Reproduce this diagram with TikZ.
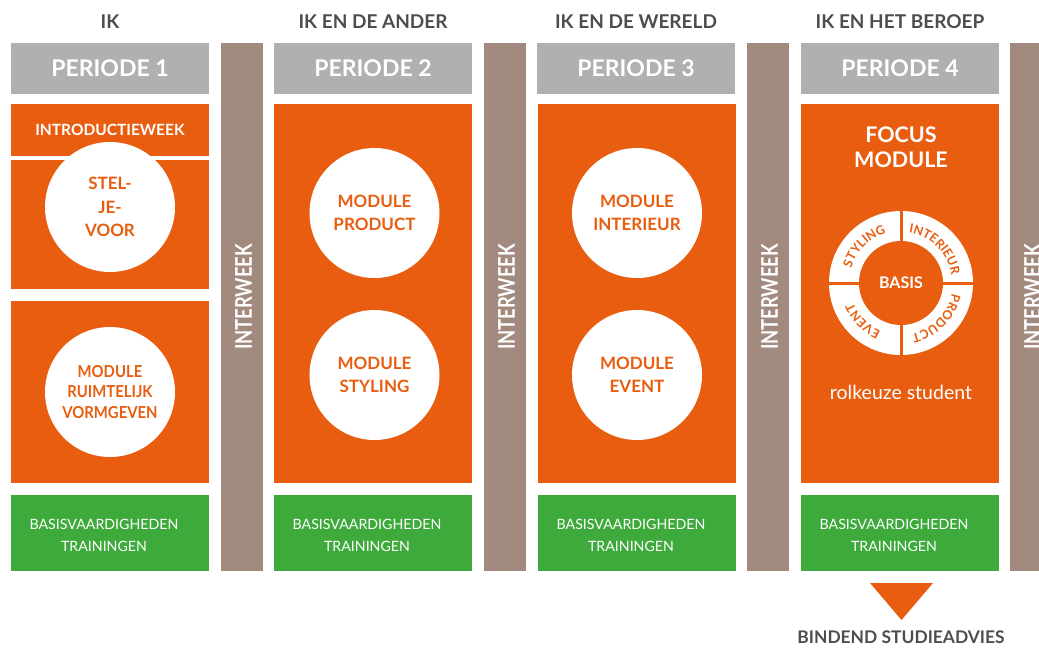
\documentclass[tikz,border=0pt]{standalone}
\usepackage{fontspec}
\setmainfont{Lato}
\newfontfamily\condb{Lato}
\newfontfamily\narrowb{Lato}[FakeStretch=0.8]
\newfontfamily\semib{Lato}[FakeStretch=0.9]
\usetikzlibrary{decorations.text}
\definecolor{orng}{RGB}{232,93,15}
\definecolor{hgray}{RGB}{176,176,176}
\definecolor{brwn}{RGB}{163,138,127}
\definecolor{grn}{RGB}{61,170,59}
\definecolor{dgray}{RGB}{77,77,77}
\begin{document}
\begin{tikzpicture}[x=1pt,y=-1pt,
  box/.style={rectangle, inner sep=0pt, outer sep=0pt, minimum width=198pt, text=white, align=center},
  hdr/.style={box, fill=hgray, minimum height=51pt, font=\condb\bfseries\fontsize{23}{23}\selectfont},
  obox/.style={box, fill=orng},
  gbox/.style={box, fill=grn, minimum height=76pt},
  gtxt/.style={text=white, align=center, inner sep=0pt, font=\condb\fontsize{14.2}{22}\selectfont},
  iwk/.style={rectangle, fill=brwn, inner sep=0pt, minimum width=42pt, minimum height=528pt},
  iwtxt/.style={rotate=90, text=white, font=\narrowb\bfseries\fontsize{23}{23}\selectfont},
  title/.style={text=dgray, font=\condb\bfseries\fontsize{19}{19}\selectfont},
  mcirc/.style={circle, fill=white, inner sep=0pt, minimum size=130pt, text=orng, align=center, font=\condb\bfseries\fontsize{17}{23.5}\selectfont},
  ringtxt/.style={decorate, decoration={text along path, text align=center, text color=orng, text={|\condb\bfseries\fontsize{12.5}{12.5}\selectfont|#1}}}
]
\useasboundingbox (0,0) rectangle (1039,648);
\clip (0,0) rectangle (1039,648);

% titles
\node[title] (t1) at (110,22) {IK};
\node[title] (t2) at (373,22) {IK EN DE ANDER};
\node[title] (t3) at (636,22) {IK EN DE WERELD};
\node[title] (t4) at (900,22) {IK EN HET BEROEP};

% period headers
\node[hdr] (p1) at (110,68.5) {PERIODE 1};
\node[hdr] (p2) at (373,68.5) {PERIODE 2};
\node[hdr] (p3) at (636,68.5) {PERIODE 3};
\node[hdr] (p4) at (900,68.5) {PERIODE 4};

% interweek bars
\foreach \i/\x in {1/242,2/505,3/768,4/1031}{
  \node[iwk] (iw\i) at (\x,307) {};
  \node[iwtxt] (iwt\i) at (\x+1.5,297) {INTERWEEK};
}

% column 1
\node[obox, minimum height=52pt, font=\condb\bfseries\fontsize{15.5}{15.5}\selectfont] (intro) at (110,130) {INTRODUCTIEWEEK};
\node[obox, minimum height=129pt] (c1a) at (110,224.5) {};
\node[obox, minimum height=182pt] (c1b) at (110,392) {};
\node[mcirc] (stel) at (110,207) {STEL-\\JE-\\VOOR};
\node[mcirc, font=\semib\bfseries\fontsize{16.5}{20.5}\selectfont] (ruim) at (110,392) {MODULE\\RUIMTELIJK\\VORMGEVEN};

% column 2
\node[obox, minimum height=379pt] (c2) at (373,293.5) {};
\node[mcirc] (prod) at (374.5,213) {MODULE\\PRODUCT};
\node[mcirc] (styl) at (374.5,375) {MODULE\\STYLING};

% column 3
\node[obox, minimum height=379pt] (c3) at (637,293.5) {};
\node[mcirc] (inter) at (637,213) {MODULE\\INTERIEUR};
\node[mcirc] (event) at (637,375) {MODULE\\EVENT};

% column 4
\node[obox, minimum height=379pt] (c4) at (900,293.5) {};
\node[text=white, align=center, font=\condb\bfseries\fontsize{21.5}{25}\selectfont] (focus) at (901,147.5) {FOCUS\\MODULE};
\node[circle, fill=white, inner sep=0pt, minimum size=144pt] (ring) at (901,283) {};
\draw[orng, line width=3pt] (ring.west) -- (ring.east);
\draw[orng, line width=3pt] (ring.north) -- (ring.south);
\node[circle, fill=orng, inner sep=0pt, minimum size=84pt, text=white, font=\condb\bfseries\fontsize{16}{16}\selectfont] (basis) at (901,283) {BASIS};
\begin{scope}[shift={(901pt,-283pt)}, y=1pt]
  \path[ringtxt=STYLING] (174:52) arc[start angle=174, end angle=96, radius=52];
  \path[ringtxt=INTERIEUR] (86:51) arc[start angle=86, end angle=4, radius=51];
  \path[ringtxt=PRODUCT] (-4:52) arc[start angle=-4, end angle=-86, radius=52];
  \path[ringtxt=EVENT] (-96:52) arc[start angle=-96, end angle=-174, radius=52];
\end{scope}
\node[text=white, font=\fontsize{19.5}{19.5}\selectfont] (rol) at (901,392) {rolkeuze student};

% green boxes
\foreach \i/\x in {1/110,2/373,3/637,4/900}{
  \node[gbox] (g\i) at (\x,533) {};
  \node[gtxt] (gt\i) at (\x-6,535) {BASISVAARDIGHEDEN\\TRAININGEN};
}

% arrow and advice
\coordinate (tl) at (870,583);
\coordinate (tr) at (933,583);
\coordinate (tb) at (901.5,620);
\fill[orng] (tl) -- (tr) -- (tb) -- cycle;
\node[title, font=\condb\bfseries\fontsize{17.4}{17.4}\selectfont] (bsa) at (901,637) {BINDEND STUDIEADVIES};
\end{tikzpicture}
\end{document}
